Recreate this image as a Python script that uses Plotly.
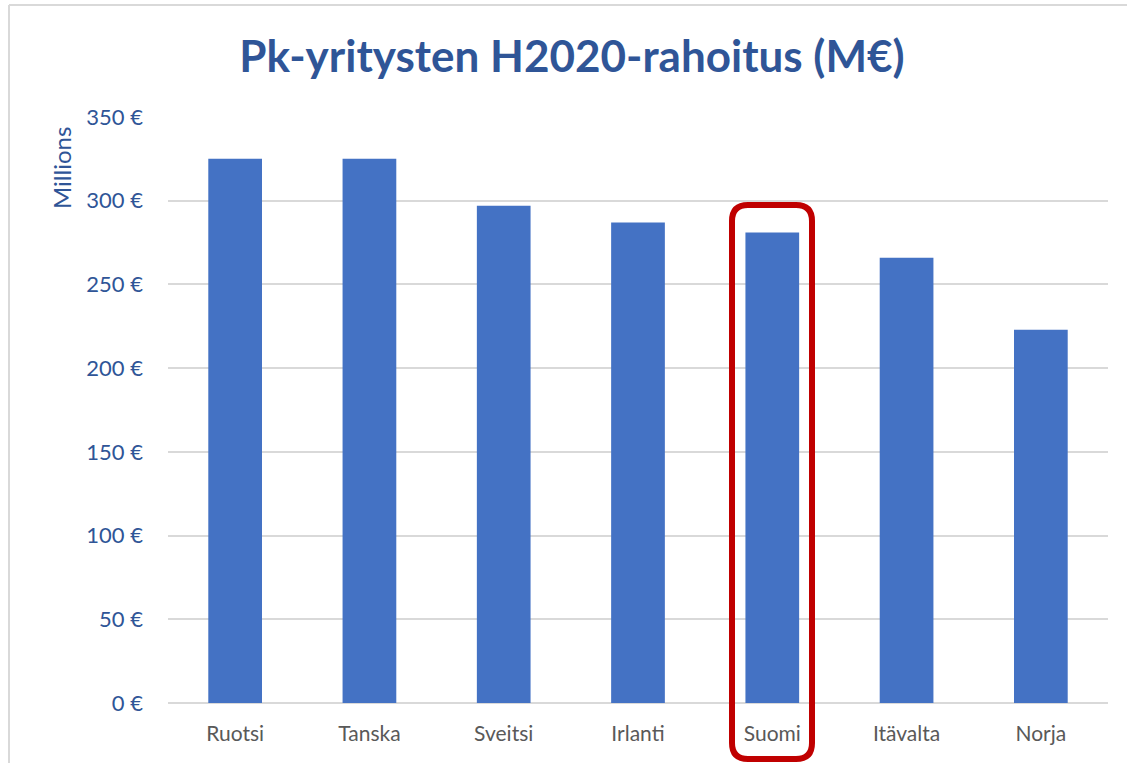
import plotly.graph_objects as go

countries = ['Ruotsi', 'Tanska', 'Sveitsi', 'Irlanti', 'Suomi', 'Itävalta', 'Norja']
funding_meur = [325, 325, 297, 287, 281, 266, 223]
y_ticks = [0, 50, 100, 150, 200, 250, 300, 350]

W, H = 1128, 763
L, R, T, B = 168, 20, 117, 60
PW, PH = W - L - R, H - T - B


def px(x):
    return (x - L) / PW


def py(y):
    return (H - B - y) / PH


def rounded_box(x0, y0, x1, y1, r):
    # pixel coords -> paper path with rounded corners
    pts = [
        ('M', x0 + r, y0), ('L', x1 - r, y0), ('Q', x1, y0, x1, y0 + r),
        ('L', x1, y1 - r), ('Q', x1, y1, x1 - r, y1), ('L', x0 + r, y1),
        ('Q', x0, y1, x0, y1 - r), ('L', x0, y0 + r), ('Q', x0, y0, x0 + r, y0),
    ]
    out = []
    for p in pts:
        cmd, vals = p[0], p[1:]
        coords = []
        for i in range(0, len(vals), 2):
            coords.append(f"{px(vals[i]):.5f},{py(vals[i + 1]):.5f}")
        out.append(cmd + ' ' + ' '.join(coords))
    return ' '.join(out) + ' Z'


fig = go.Figure(go.Bar(
    x=countries,
    y=funding_meur,
    marker_color='#4472C4',
    marker_line_width=0,
))

font = 'Lato, Open Sans, sans-serif'
blue_text = '#2F5597'

fig.update_layout(
    width=W, height=H,
    margin=dict(l=L, r=R, t=T, b=B),
    paper_bgcolor='white',
    plot_bgcolor='white',
    bargap=0.6,
    showlegend=False,
    font=dict(family=font, size=20, color=blue_text),
    title=dict(
        text='<b>Pk-yritysten H2020-rahoitus (M€)</b>',
        font=dict(family=font, size=44, color=blue_text),
        x=572 / W, xanchor='center',
        y=1 - 57 / H, yanchor='middle',
    ),
    xaxis=dict(
        showgrid=False, showline=False, ticks='',
        tickfont=dict(color='#595959', size=21),
        ticklabelstandoff=16,
    ),
    yaxis=dict(
        range=[0, 350],
        tickvals=y_ticks,
        ticktext=[f'{v} €' for v in y_ticks],
        showgrid=True, gridcolor='#D9D9D9', gridwidth=1.5,
        zeroline=True, zerolinecolor='#D9D9D9', zerolinewidth=1.5,
        showline=False, ticks='',
        tickfont=dict(color=blue_text, size=22),
        ticklabelstandoff=24,
    ),
    annotations=[dict(
        text='Millions', textangle=-90,
        xref='paper', yref='paper',
        x=px(62), y=py(168), xanchor='center', yanchor='middle',
        showarrow=False, font=dict(family=font, size=24, color=blue_text),
    )],
    shapes=[
        dict(type='line', xref='paper', yref='paper',
             x0=px(9), x1=px(9), y0=py(5), y1=py(H + 20),
             line=dict(color='#D9D9D9', width=2)),
        dict(type='line', xref='paper', yref='paper',
             x0=px(9), x1=px(1127), y0=py(5), y1=py(5),
             line=dict(color='#D9D9D9', width=2)),
        dict(type='path', xref='paper', yref='paper',
             path=rounded_box(732, 205, 812, 759, 16),
             line=dict(color='#C00000', width=6)),
    ],
)

# drop the default page margin so the figure fills the window exactly
fig.write_html('out.html',
               config={'displayModeBar': False},
               post_script="document.body.style.margin='0';"
                           "document.body.style.overflow='hidden';")
